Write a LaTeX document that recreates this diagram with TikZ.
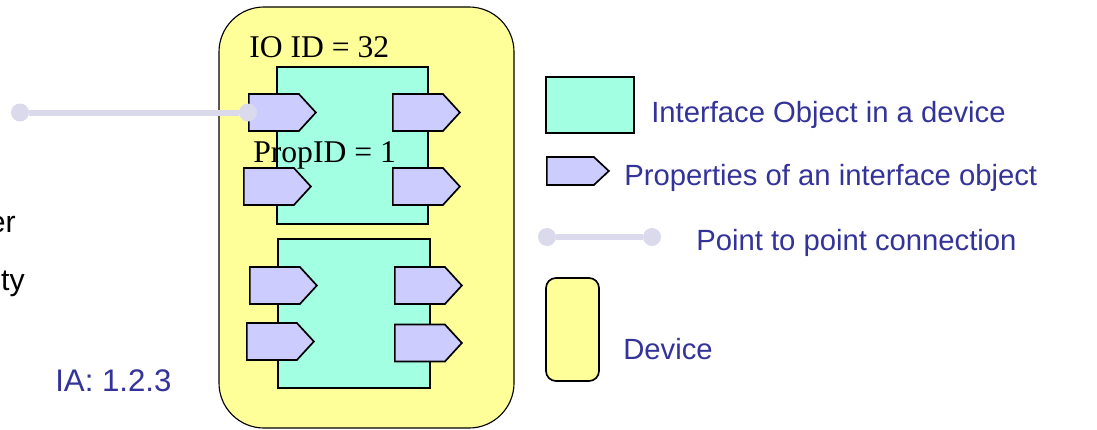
\documentclass[tikz,border=0pt]{standalone}
\usepackage{fontspec}
\setmainfont{Liberation Serif}
\setsansfont{Liberation Sans}
\usetikzlibrary{shapes.symbols, positioning}

\definecolor{devyellow}{RGB}{255,255,153}
\definecolor{ioaqua}{RGB}{163,255,226}
\definecolor{proplilac}{RGB}{204,204,255}
\definecolor{linklilac}{RGB}{218,218,236}
\definecolor{legendblue}{RGB}{51,51,153}

\tikzset{
  device/.style={draw, line width=0.8pt, fill=devyellow, rounded corners=11.25mm, inner sep=0pt},
  ioobj/.style={draw, line width=1.2pt, fill=ioaqua, inner sep=0pt},
  prop/.style={signal, signal to=east, signal from=nowhere, signal pointer angle=95,
    draw, line width=1.2pt, fill=proplilac, minimum width=16.75mm, minimum height=9.25mm, inner sep=0pt},
  ptp/.style={linklilac, line width=1.5mm},
  ptpdot/.style={circle, fill=linklilac, minimum size=4.5mm, inner sep=0pt},
  idtext/.style={font=\fontsize{22.5}{26}\selectfont, inner sep=0pt, anchor=base west},
  legtext/.style={font=\sffamily\fontsize{20.8}{25}\selectfont, text=legendblue, inner sep=0pt, anchor=base west},
}

\begin{document}
\begin{tikzpicture}[x=0.25mm, y=-0.25mm, on grid, node distance=36mm]
  \useasboundingbox (0,0) rectangle (1097,429);
  \clip (0,0) rectangle (1097,429);

  % the device and its two interface objects
  \node[device, minimum width=73.75mm, minimum height=105.25mm] (dev) at (366.5,217.5) {};
  \node[ioobj, minimum width=37.75mm, minimum height=39.25mm] (ioa) at (352.5,145.5) {};
  \node[ioobj, minimum width=38mm, minimum height=37.25mm] (iob) at (354,313.5) {};

  % properties
  \node[prop, anchor=west] (pa1) at (248,112.5) {};
  \node[prop, right=of pa1] (pa2) {};
  \node[prop, anchor=west] (pa3) at (243,186.5) {};
  \node[prop, right=37.25mm of pa3] (pa4) {};
  \node[prop, anchor=west] (pb1) at (249,285.5) {};
  \node[prop, right=36.25mm of pb1] (pb2) {};
  \node[prop, anchor=west] (pb3) at (246,341.5) {};
  \node[prop, anchor=west] (pb4) at (394,343) {};

  \node[idtext] (ioid) at (249,57) {IO ID = 32};
  \node[idtext] (propid) at (253,162) {PropID = 1};

  % link into the first property
  \node[ptpdot] (far) at (20,112.5) {};
  \node[ptpdot] (near) at (pa1.west) {};
  \draw[ptp] (far) -- (near);

  \node[legtext, text=black, font=\sffamily\fontsize{21.5}{25}\selectfont, anchor=base east] (cuta) at (16,232) {er};
  \node[legtext, text=black, font=\sffamily\fontsize{21.5}{25}\selectfont, anchor=base east] (cutb) at (25,290) {ty};
  \node[legtext, font=\sffamily\fontsize{22.2}{26}\selectfont] (ia) at (55,391) {IA: 1.2.3};

  % legend
  \node[ioobj, minimum width=22mm, minimum height=14mm] (lgio) at (590,105) {};
  \node[prop, minimum width=15.5mm, minimum height=7mm, signal pointer angle=86, anchor=west] (lgprop) at (546,171) {};
  \node[ptpdot] (lga) at (547,237) {};
  \node[ptpdot] (lgb) at (652,237) {};
  \draw[ptp] (lga) -- (lgb);
  \node[device, line width=1.2pt, rounded corners=2.5mm, minimum width=13.25mm, minimum height=25.75mm] (lgdev) at (572.5,329.5) {};

  \node[legtext] (lgiotxt) at (651,122) {Interface Object in a device};
  \node[legtext] (lgproptxt) at (624,185) {Properties of an interface object};
  \node[legtext] (lgptptxt) at (696,250) {Point to point connection};
  \node[legtext] (lgdevtxt) at (623,359) {Device};
\end{tikzpicture}
\end{document}
